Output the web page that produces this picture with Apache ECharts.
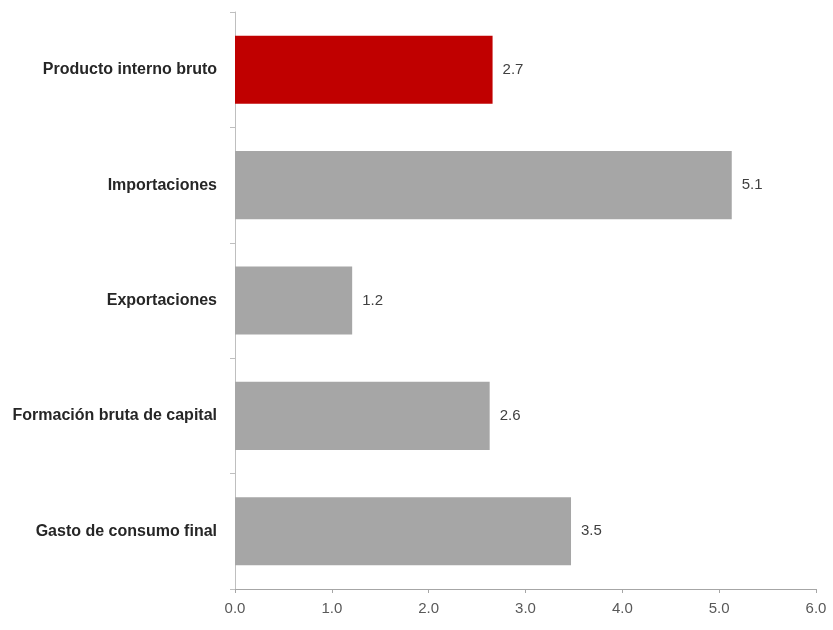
<!DOCTYPE html>
<html>
<head>
<meta charset="utf-8">
<script src="https://cdn.jsdelivr.net/npm/echarts@6/dist/echarts.min.js"></script>
<style>
html,body{margin:0;padding:0;background:#fff;}
#chart{width:833px;height:630px;}
</style>
</head>
<body>
<div id="chart"></div>
<script>
// Data (top-to-bottom as shown in the chart)
const categories = ["Producto interno bruto", "Importaciones", "Exportaciones", "Formación bruta de capital", "Gasto de consumo final"];
const values = [2.66, 5.13, 1.21, 2.63, 3.47];
const barColors = ["#C00000", "#A6A6A6", "#A6A6A6", "#A6A6A6", "#A6A6A6"];
const xTicks = [0, 1, 2, 3, 4, 5, 6];

const chart = echarts.init(document.getElementById('chart'));
const font = "'Liberation Sans', sans-serif";
chart.setOption({
  animation: false,
  grid: {left: 235, right: 17, top: 12, bottom: 41, containLabel: false},
  xAxis: {
    type: 'value', min: xTicks[0], max: xTicks[xTicks.length - 1], interval: 1,
    axisLine: {show: true, lineStyle: {color: '#A6A6A6', width: 1}},
    axisTick: {show: true, length: 4, lineStyle: {color: '#A6A6A6'}},
    splitLine: {show: false},
    axisLabel: {formatter: v => v.toFixed(1), color: '#595959', fontSize: 15, fontFamily: font, margin: 12}
  },
  yAxis: {
    type: 'category', data: categories.slice().reverse(), inverse: false,
    axisLine: {show: true, lineStyle: {color: '#BFBFBF', width: 1}},
    axisTick: {show: true, length: 5, lineStyle: {color: '#BFBFBF'}},
    axisLabel: {color: '#262626', fontSize: 16, fontWeight: 'bold', fontFamily: font, margin: 18}
  },
  series: [{
    type: 'bar',
    barCategoryGap: '41%',
    data: values.map((v, i) => ({value: v, itemStyle: {color: barColors[i]}})).reverse(),
    label: {show: true, position: 'right', distance: 10, formatter: p => p.value.toFixed(1), color: '#404040', fontSize: 15, fontFamily: font}
  }]
});
</script>
</body>
</html>
